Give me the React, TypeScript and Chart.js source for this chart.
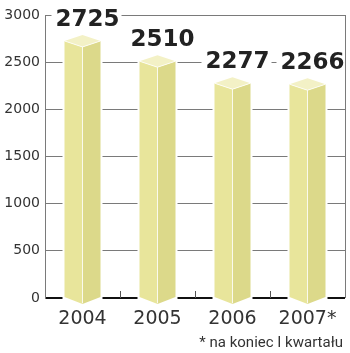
import React, { useEffect, useRef } from "react";
import { Chart, registerables } from "chart.js";

Chart.register(...registerables);

const categories = ["2004", "2005", "2006", "2007*"];
const values = [2725, 2510, 2277, 2266];
const yTicks = [0, 500, 1000, 1500, 2000, 2500, 3000];
const footnote = "* na koniec I kwartału";

const LEFT_FACE = "#e8e59b";
const RIGHT_FACE = "#dcd98a";
const TOP_FACE = "#f3f1c6";

const prismPlugin = {
  id: "prism",
  afterDatasetsDraw(chart: any) {
    const ctx = chart.ctx;
    const meta = chart.getDatasetMeta(0);
    const area = chart.chartArea;
    ctx.save();
    meta.data.forEach((bar: any, i: number) => {
      const x = bar.x;
      const y = bar.y;
      const base = bar.base;
      const hw = bar.width / 2;
      const d = 6;
      // white halo
      ctx.fillStyle = "#ffffff";
      ctx.fillRect(x - hw - 2, y - d, bar.width + 4, base - y + d + 3);
      // left face
      ctx.fillStyle = LEFT_FACE;
      ctx.beginPath();
      ctx.moveTo(x - hw, y);
      ctx.lineTo(x, y + d);
      ctx.lineTo(x, base + d + 1);
      ctx.lineTo(x - hw, base);
      ctx.closePath();
      ctx.fill();
      // right face
      ctx.fillStyle = RIGHT_FACE;
      ctx.beginPath();
      ctx.moveTo(x, y + d);
      ctx.lineTo(x + hw, y);
      ctx.lineTo(x + hw, base);
      ctx.lineTo(x, base + d + 1);
      ctx.closePath();
      ctx.fill();
      // top
      ctx.fillStyle = TOP_FACE;
      ctx.beginPath();
      ctx.moveTo(x - hw, y);
      ctx.lineTo(x, y - d);
      ctx.lineTo(x + hw, y);
      ctx.lineTo(x, y + d);
      ctx.closePath();
      ctx.fill();
      // light edges
      ctx.strokeStyle = "rgba(255,255,255,0.8)";
      ctx.lineWidth = 1;
      ctx.beginPath();
      ctx.moveTo(x - hw, y);
      ctx.lineTo(x, y + d);
      ctx.lineTo(x + hw, y);
      ctx.moveTo(x, y + d);
      ctx.lineTo(x, base + d);
      ctx.stroke();

      // value label
      const label = String(values[i]);
      ctx.font = "bold 23px 'DejaVu Sans'";
      const tw = ctx.measureText(label).width;
      const lx = x + 5;
      const ly = y - 22;
      ctx.fillStyle = "#ffffff";
      ctx.fillRect(lx - tw / 2 - 4, ly - 10, tw + 6, 20);
      ctx.fillStyle = "#222222";
      ctx.textAlign = "center";
      ctx.textBaseline = "middle";
      ctx.fillText(label, lx, ly + 1);
    });

    // small ticks between categories on baseline
    const xs = chart.scales.x;
    ctx.strokeStyle = "#555555";
    ctx.lineWidth = 1;
    for (let i = 0; i < categories.length - 1; i++) {
      const mx = (xs.getPixelForValue(i) + xs.getPixelForValue(i + 1)) / 2;
      ctx.beginPath();
      ctx.moveTo(Math.round(mx) + 0.5, area.bottom - 7);
      ctx.lineTo(Math.round(mx) + 0.5, area.bottom);
      ctx.stroke();
    }
    // right border
    ctx.strokeStyle = "#7a7a7a";
    ctx.beginPath();
    ctx.moveTo(area.right + 0.5, area.top);
    ctx.lineTo(area.right + 0.5, area.bottom);
    ctx.stroke();

    // footnote
    ctx.font = "15px Roboto";
    ctx.fillStyle = "#333333";
    ctx.textAlign = "right";
    ctx.textBaseline = "alphabetic";
    ctx.fillText(footnote, 343, 347);
    ctx.restore();
  },
};

export default function App() {
  const ref = useRef<HTMLCanvasElement | null>(null);
  useEffect(() => {
    if (!ref.current) return;
    const chart = new Chart(ref.current, {
      type: "bar",
      data: {
        labels: categories,
        datasets: [
          {
            data: values,
            backgroundColor: "rgba(0,0,0,0)",
            borderWidth: 0,
            barPercentage: 0.48,
            categoryPercentage: 1,
          },
        ],
      },
      options: {
        responsive: false,
        animation: false,
        events: [],
        layout: { padding: { left: 0, top: 15, right: 5, bottom: 0 } },
        plugins: {
          legend: { display: false },
          tooltip: { enabled: false },
          title: { display: false },
        },
        scales: {
          x: {
            offset: true,
            grid: { display: false, drawTicks: false },
            border: { display: false },
            ticks: {
              color: "#333333",
              font: { family: "'DejaVu Sans'", size: 19 },
              padding: 10,
              maxRotation: 0,
            },
            afterFit: (s: any) => {
              s.height = 55;
            },
          },
          y: {
            min: 0,
            max: 3000,
            afterBuildTicks: (s: any) => {
              s.ticks = yTicks.map((v) => ({ value: v }));
            },
            grid: {
              drawTicks: false,
              color: (c: any) => (c.tick && c.tick.value === 0 ? "#111111" : "#7a7a7a"),
              lineWidth: (c: any) => (c.tick && c.tick.value === 0 ? 2 : 1),
            },
            border: { display: true, color: "#7a7a7a", width: 1 },
            ticks: {
              color: "#333333",
              font: { family: "'DejaVu Sans'", size: 14 },
              padding: 5,
              callback: (v: any) => String(v),
            },
            afterFit: (s: any) => {
              s.width = 45;
            },
          },
        },
      },
      plugins: [prismPlugin],
    });
    return () => chart.destroy();
  }, []);
  return (
    <div style={{ position: "fixed", left: 0, top: 0, width: 350, height: 353, background: "#fff" }}>
      <canvas ref={ref} width={350} height={353} style={{ display: "block" }} />
    </div>
  );
}
